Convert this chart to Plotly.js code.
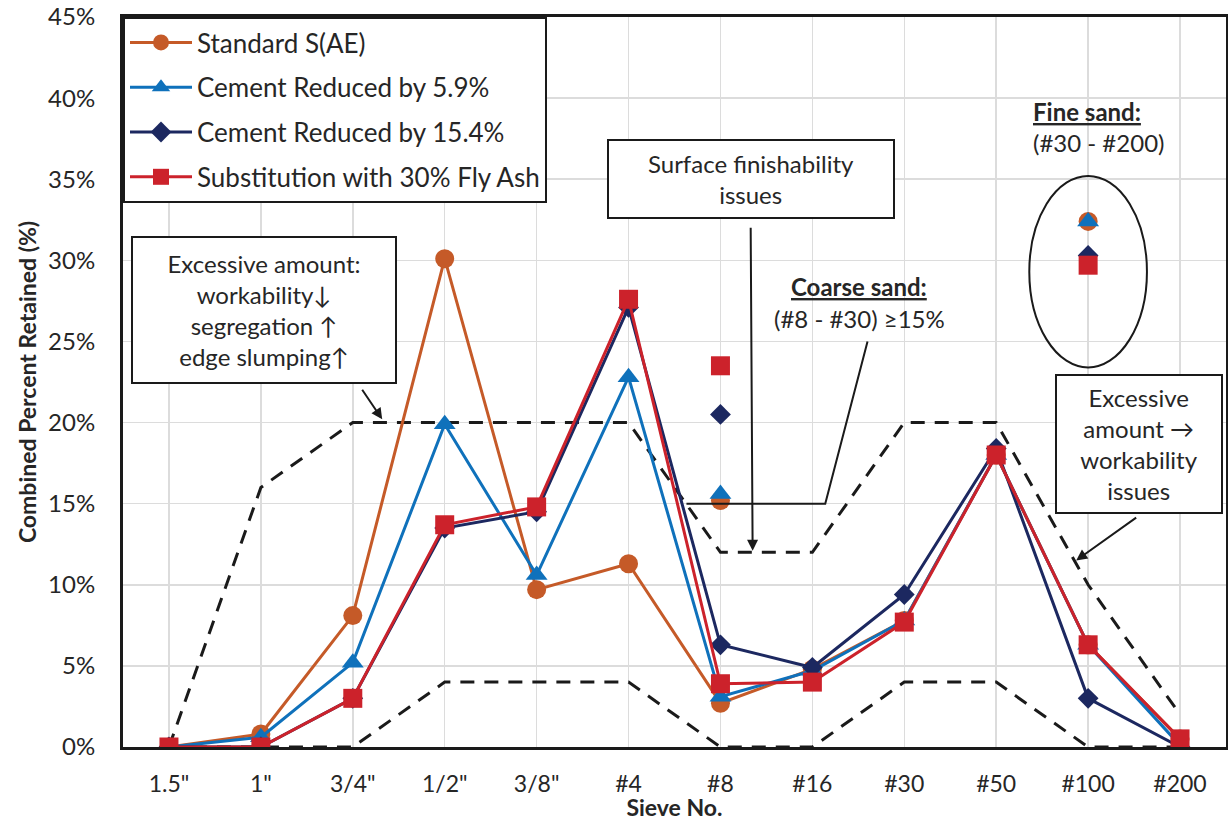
<!DOCTYPE html>
<html>
<head>
<meta charset="utf-8">
<script src="https://cdn.plot.ly/plotly-3.0.1.min.js"></script>
<style>html,body{margin:0;padding:0;background:#fff;}#chart{width:1228px;height:821px;}</style>
</head>
<body>
<div id="chart"></div>
<script>
const sieves = ['1.5"', '1"', '3/4"', '1/2"', '3/8"', '#4', '#8', '#16', '#30', '#50', '#100', '#200'];
const seriesNames = ['Standard S(AE)', 'Cement Reduced by 5.9%', 'Cement Reduced by 15.4%', 'Substitution with 30% Fly Ash'];
const standardSAE   = [0, 0.8, 8.1, 30.1, 9.7, 11.3, 2.7, 4.8, 7.8, 18.0, 6.3, 0.5];
const cement59      = [0, 0.6, 5.2, 19.9, 10.6, 22.8, 3.1, 4.7, 7.8, 18.0, 6.3, 0.1];
const cement154     = [0, 0, 3.0, 13.5, 14.5, 27.1, 6.3, 4.9, 9.4, 18.4, 3.0, 0];
const flyAsh30      = [0, 0, 3.0, 13.7, 14.8, 27.6, 3.9, 4.0, 7.7, 18.0, 6.3, 0.5];
const upperLimit    = [0, 16, 20, 20, 20, 20, 12, 12, 20, 20, 10, 2];
const lowerLimit    = [0, 0, 0, 4, 4, 4, 0, 0, 4, 4, 0, 0];
// sums: coarse sand (#8 - #30) plotted at #8, fine sand (#30 - #200) plotted at #100
const sumSieves     = ['#8', '#100'];
const sumStandard   = [15.2, 32.4];
const sum59         = [15.6, 32.4];
const sum154        = [20.5, 30.3];
const sumFlyAsh     = [23.5, 29.7];
const yTicks        = [0, 5, 10, 15, 20, 25, 30, 35, 40, 45];
const yTickLabels   = ['0%', '5%', '10%', '15%', '20%', '25%', '30%', '35%', '40%', '45%'];

const colors = ['#C55A28', '#0F71BB', '#1C2860', '#CC222B'];
const symbols = ['circle', 'triangle-up', 'diamond', 'square'];
const sizes = [19, 19, 16, 19];
const main = [standardSAE, cement59, cement154, flyAsh30];
const sums = [sumStandard, sum59, sum154, sumFlyAsh];

const traces = [];
const dashStyle = {color: '#1a1a1a', width: 3, dash: '14px,10px'};
traces.push({x: sieves, y: upperLimit, mode: 'lines', line: dashStyle, showlegend: false, hoverinfo: 'skip'});
traces.push({x: sieves, y: lowerLimit, mode: 'lines', line: dashStyle, showlegend: false, hoverinfo: 'skip'});
for (let i = 0; i < 4; i++) {
  traces.push({
    x: sieves, y: main[i], name: seriesNames[i], mode: 'lines+markers',
    legendgroup: 'g' + i,
    line: {color: colors[i], width: 3},
    marker: {symbol: symbols[i], size: sizes[i], color: colors[i]},
    hoverinfo: 'skip'
  });
}
for (let i = 0; i < 4; i++) {
  traces.push({
    x: sumSieves, y: sums[i], mode: 'markers', showlegend: false, legendgroup: 'g' + i,
    marker: {symbol: symbols[i], size: sizes[i], color: colors[i]},
    hoverinfo: 'skip'
  });
}

const fnt = 'Lato, "Open Sans", sans-serif';
const txt = '#262626';
const boxAnn = (x, y, text, w, h) => ({
  xref: 'paper', yref: 'paper', x: x, y: y, xanchor: 'center', yanchor: 'middle',
  text: text, showarrow: false, bgcolor: '#ffffff', bordercolor: '#1a1a1a', borderwidth: 2,
  width: w, height: h, font: {family: fnt, size: 24, color: txt}, align: 'center'
});
// paper helpers: plot area left 123, width 1103, top 17, height 730
const px = v => (v - 123) / 1103;
const py = v => (747 - v) / 730;
const arrow = (x, y, ax, ay) => ({
  xref: 'x', yref: 'y', x: x, y: y, ax: ax, ay: ay, text: ' ', showarrow: true,
  arrowhead: 2, arrowsize: 1.1, arrowwidth: 2, arrowcolor: '#1a1a1a', standoff: 0, startstandoff: 0
});

const annotations = [
  boxAnn(px(264), py(310), 'Excessive amount:<br>workability↓<br>segregation ↑<br>edge slumping↑', 260, 142),
  boxAnn(px(751), py(179), 'Surface finishability<br>issues', 282, 74),
  boxAnn(px(1139), py(444), 'Excessive<br>amount →<br>workability<br>issues', 162, 134),
  {xref: 'paper', yref: 'paper', x: px(859), y: py(286), xanchor: 'center', yanchor: 'middle', showarrow: false,
   text: '<b><u>Coarse sand:</u></b>', font: {family: fnt, size: 24, color: txt}},
  {xref: 'paper', yref: 'paper', x: px(859), y: py(318), xanchor: 'center', yanchor: 'middle', showarrow: false,
   text: '(#8 - #30) ≥15%', font: {family: fnt, size: 24, color: txt}},
  {xref: 'paper', yref: 'paper', x: px(1031), y: py(111), xanchor: 'left', yanchor: 'middle', showarrow: false,
   text: '<b><u>Fine sand:</u></b>', font: {family: fnt, size: 24, color: txt}},
  {xref: 'paper', yref: 'paper', x: px(1031), y: py(143), xanchor: 'left', yanchor: 'middle', showarrow: false,
   text: '(#30 - #200)', font: {family: fnt, size: 24, color: txt}},
  arrow(2.32, 20.2, -23, -34),
  arrow(6.35, 12.1, -2, -332),
  arrow(9.87, 11.5, 63, -45)
];

const shapes = [
  {type: 'path', xref: 'x', yref: 'y', path: 'M5.63,15 L7.14,15 L7.6,25', line: {color: '#1a1a1a', width: 2}},
  {type: 'circle', xref: 'x', yref: 'y', x0: 9.36, x1: 10.64, y0: 23.4, y1: 35.2, line: {color: '#1a1a1a', width: 2}}
];

const layout = {
  width: 1228, height: 821,
  margin: {l: 123, r: 2, t: 17, b: 74},
  paper_bgcolor: '#ffffff', plot_bgcolor: '#ffffff',
  font: {family: fnt, color: txt},
  showlegend: true,
  legend: {
    x: 0, y: 1, xanchor: 'left', yanchor: 'top', bgcolor: '#ffffff',
    bordercolor: '#1a1a1a', borderwidth: 2, font: {family: fnt, size: 26, color: txt},
    traceorder: 'grouped', tracegroupgap: 8, itemwidth: 62
  },
  xaxis: {
    type: 'category', categoryorder: 'array', categoryarray: sieves, range: [-0.5, 11.5],
    showgrid: true, gridcolor: '#dcdcdc', gridwidth: 1.5,
    showline: true, linecolor: '#1a1a1a', linewidth: 3, mirror: true,
    ticks: '', ticklabelstandoff: 14, tickfont: {family: fnt, size: 23, color: txt},
    title: {text: '<b>Sieve No.</b>', font: {family: fnt, size: 23, color: txt}, standoff: 0},
    fixedrange: true
  },
  yaxis: {
    range: [0, 45], tickmode: 'array', tickvals: yTicks, ticktext: yTickLabels,
    showgrid: true, gridcolor: '#dcdcdc', gridwidth: 1.5, zeroline: false,
    showline: true, linecolor: '#1a1a1a', linewidth: 3, mirror: true,
    ticks: '', ticklabelstandoff: 20, tickfont: {family: fnt, size: 24, color: txt},
    title: {text: '<b>Combined Percent Retained (%)</b>', font: {family: fnt, size: 23, color: txt}, standoff: 6},
    fixedrange: true
  },
  annotations: annotations,
  shapes: shapes
};

Plotly.newPlot('chart', traces, layout, {displayModeBar: false, staticPlot: true});
</script>
</body>
</html>
